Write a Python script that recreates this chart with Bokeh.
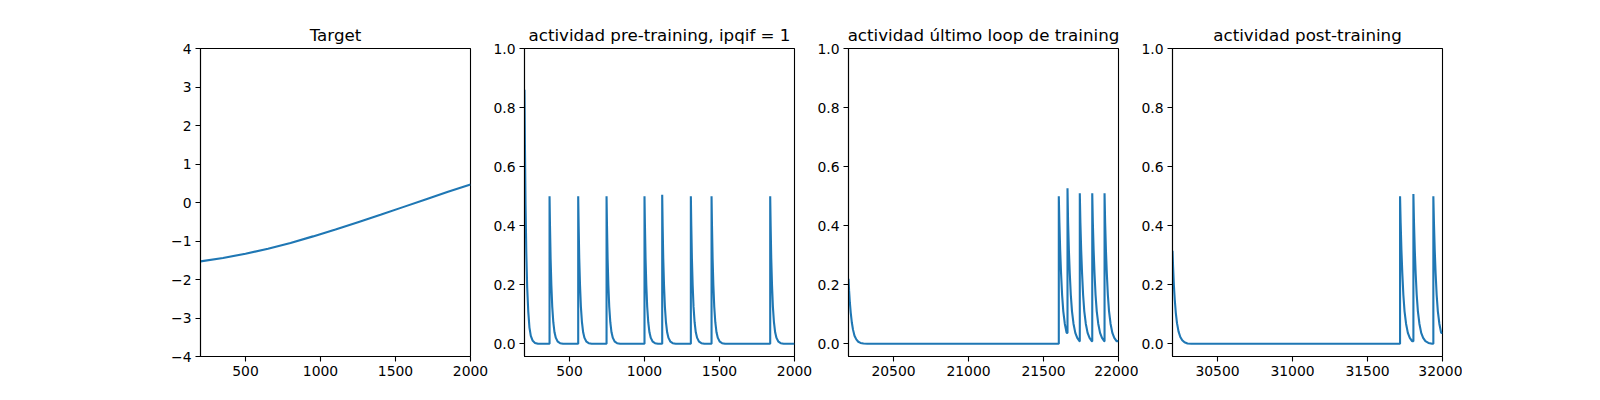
from bokeh.plotting import figure
from bokeh.layouts import row
from bokeh.models import Range1d, FixedTicker, PrintfTickFormatter
from bokeh.embed import file_html
from bokeh.resources import INLINE

# panel 1: target signal
target_x = [200, 350, 500, 650, 800, 950, 1100, 1250, 1400, 1550, 1700, 1850, 2000]
target_y = [-1.53, -1.44, -1.33, -1.20, -1.05, -0.88, -0.70, -0.51, -0.32, -0.12, 0.08, 0.28, 0.47]

# panel 2: pre-training activity (fast decay)
pre_dt = [0, 3, 7, 12, 18, 25, 33, 42, 55, 70, 90]
pre_decay = [0.50, 0.40, 0.29, 0.20, 0.125, 0.073, 0.039, 0.02, 0.007, 0.002, 0.0]
pre_init = [0.86, 0.67, 0.47, 0.31, 0.19, 0.11, 0.055, 0.027, 0.01, 0.003, 0.0]
pre_spikes = [367, 558, 747, 1000, 1118, 1309, 1447, 1838]
pre_peaks = [0.50, 0.50, 0.50, 0.50, 0.505, 0.50, 0.50, 0.50]

# panels 3 and 4: slower decay
slow_dt = [0, 4, 9, 15, 22, 30, 40, 52, 65, 80, 100, 125]
slow_decay = [0.50, 0.41, 0.32, 0.24, 0.166, 0.11, 0.068, 0.037, 0.02, 0.009, 0.003, 0.0]

last_init = [0.22, 0.18, 0.14, 0.105, 0.073, 0.048, 0.027, 0.015, 0.007, 0.003, 0.001, 0.0]
last_spikes = [21602, 21660, 21742, 21825, 21907]
last_peaks = [0.50, 0.527, 0.51, 0.51, 0.51]

post_init = [0.315, 0.26, 0.20, 0.15, 0.105, 0.07, 0.042, 0.023, 0.012, 0.005, 0.001, 0.0]
post_spikes = [31717, 31806, 31939]
post_peaks = [0.50, 0.507, 0.50]

BLUE = "#1f77b4"


def build_trace(x0, x1, init_y, dts, decay, spikes, peaks):
    xs = [x0 + d for d in dts[:len(init_y)]]
    ys = list(init_y)
    for i, t in enumerate(spikes):
        end = spikes[i + 1] if i + 1 < len(spikes) else x1
        xs.append(t); ys.append(ys[-1])
        xs.append(t); ys.append(peaks[i])
        for d, v in zip(dts[1:], decay[1:]):
            if t + d >= end:
                break
            xs.append(t + d); ys.append(v)
    xs.append(x1); ys.append(ys[-1])
    return xs, ys


def make_panel(title, xs, ys, xr, yr, xticks, yticks, left, right):
    p = figure(title=title, frame_width=270, frame_height=308,
               min_border_left=left, min_border_right=right,
               min_border_top=48, min_border_bottom=44,
               x_range=Range1d(*xr), y_range=Range1d(*yr),
               output_backend="svg", toolbar_location=None)
    p.line(xs, ys, color=BLUE, line_width=2.1)

    p.title.align = "center"
    p.title.text_font = "DejaVu Sans"
    p.title.text_font_size = "16.7px"
    p.title.text_font_style = "normal"
    p.title.text_color = "black"
    p.title.standoff = 8

    p.xgrid.visible = False
    p.ygrid.visible = False
    p.outline_line_color = "black"
    p.outline_line_alpha = 1
    p.outline_line_width = 1.1

    p.xaxis.ticker = FixedTicker(ticks=xticks)
    p.yaxis.ticker = FixedTicker(ticks=yticks)
    for ax in (p.xaxis[0], p.yaxis[0]):
        ax.major_tick_in = 0
        ax.major_tick_out = 5
        ax.minor_tick_line_color = None
        ax.axis_line_color = "black"
        ax.axis_line_width = 1.1
        ax.major_tick_line_color = "black"
        ax.major_tick_line_width = 1.1
        ax.major_label_text_font = "DejaVu Sans"
        ax.major_label_text_font_size = "13.9px"
        ax.major_label_text_color = "black"
        ax.major_label_standoff = 4
    return p


act_ticks = [0.0, 0.2, 0.4, 0.6, 0.8, 1.0]
act_range = (-0.043, 1.0)

p1 = make_panel("Target", target_x, target_y, (200, 2000), (-4, 4),
                [500, 1000, 1500, 2000], [-4, -3, -2, -1, 0, 1, 2, 3, 4], 200, 20)
p1.yaxis[0].major_label_overrides = {v: str(v).replace("-", "\u2212") for v in range(-4, 5)}

x2, y2 = build_trace(200, 2000, pre_init, pre_dt, pre_decay, pre_spikes, pre_peaks)
p2 = make_panel("actividad pre-training, ipqif = 1", x2, y2, (200, 2000), act_range,
                [500, 1000, 1500, 2000], act_ticks, 33, 20)

x3, y3 = build_trace(20200, 22000, last_init, slow_dt, slow_decay, last_spikes, last_peaks)
p3 = make_panel("actividad último loop de training", x3, y3, (20200, 22000), act_range,
                [20500, 21000, 21500, 22000], act_ticks, 34, 20)

x4, y4 = build_trace(30200, 32000, post_init, slow_dt, slow_decay, post_spikes, post_peaks)
p4 = make_panel("actividad post-training", x4, y4, (30200, 32000), act_range,
                [30500, 31000, 31500, 32000], act_ticks, 33, 20)

for p in (p2, p3, p4):
    p.yaxis[0].formatter = PrintfTickFormatter(format="%.1f")

layout = row(p1, p2, p3, p4)
open("out.html", "w").write(file_html(layout, INLINE))
